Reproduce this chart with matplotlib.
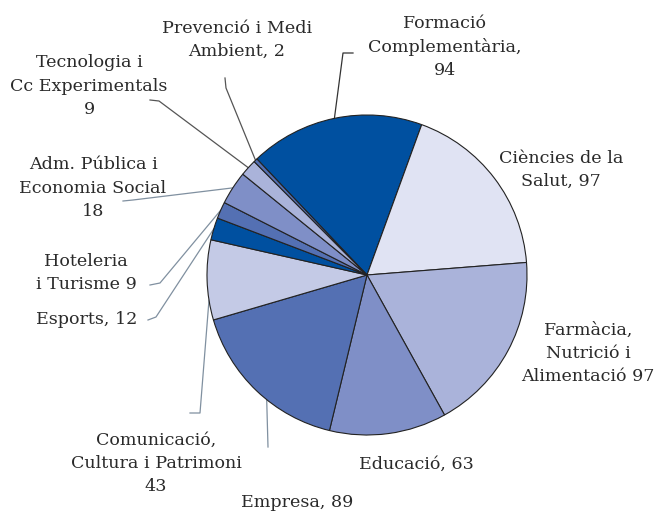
import matplotlib
matplotlib.use("Agg")
import matplotlib.pyplot as plt
import numpy as np

# --- dades ---------------------------------------------------------------
labels = [
    "Formació\nComplementària,\n94",
    "Ciències de la\nSalut, 97",
    "Farmàcia,\nNutrició i\nAlimentació 97",
    "Educació, 63",
    "Empresa, 89",
    "Comunicació,\nCultura i Patrimoni\n43",
    "Esports, 12",
    "Hoteleria\ni Turisme 9",
    "Adm. Pública i\nEconomia Social\n18",
    "Tecnologia i\nCc Experimentals\n9",
    "Prevenció i Medi\nAmbient, 2",
]
values = [94, 97, 97, 63, 89, 43, 12, 9, 18, 9, 2]
colors = ["#0050a0", "#e0e3f3", "#aab3da", "#7f8fc7", "#5470b3", "#c4cae6",
          "#0050a0", "#5470b3", "#7f8fc7", "#aab3da", "#5470b3"]

W, H = 657, 513
CX, CY, R = 367, 275, 160
START = 133.5

# posicio del text (px) i punts de la linia guia (px), None = sense guia
text_pos = [(445, 47), (561, 170), (588, 353), (416, 464), (297, 503),
            (156, 463), (87, 319), (86, 273), (93, 188), (89, 86), (237, 40)]
leaders = [
    [(353, 53), (343, 53)],
    None,
    None,
    None,
    [(268, 447)],
    [(190, 413), (200, 413)],
    [(148, 320), (156, 317)],
    [(150, 285), (160, 283)],
    [(123, 201), (133, 200)],
    [(150, 100), (159, 101)],
    [(225, 78), (226, 88)],
]
anchor_frac = [0.5, 0.5, 0.5, 0.5, 0.42, 0.25, 0.5, 0.5, 0.5, 0.5, 0.5]
leader_col = ["#333333", None, None, None, "#8090a0", "#8090a0", "#8090a0",
              "#8090a0", "#8090a0", "#555555", "#555555"]


def px(x, y):
    return (x - CX) / R, (CY - y) / R


fig = plt.figure(figsize=(W / 100, H / 100), dpi=100)
ax = fig.add_axes([(CX - R) / W, (H - CY - R) / H, 2 * R / W, 2 * R / H])
ax.pie(values, colors=colors, startangle=START, counterclock=False, radius=1,
       wedgeprops={"edgecolor": "#222222", "linewidth": 0.8})
ax.set_xlim(-1, 1)
ax.set_ylim(-1, 1)
ax.axis("off")

total = sum(values)
cum = 0
for i, v in enumerate(values):
    a0 = START - 360 * cum / total
    a1 = a0 - 360 * v / total
    cum += v
    tx, ty = px(*text_pos[i])
    ax.text(tx, ty, labels[i], ha="center", va="center", multialignment="center",
            fontsize=12.6, family="DejaVu Serif", color="#2a2a2a",
            linespacing=1.47, clip_on=False)
    if leaders[i] is None:
        continue
    ang = np.deg2rad(a0 + anchor_frac[i] * (a1 - a0))
    pts = [px(*p) for p in leaders[i]] + [(np.cos(ang), np.sin(ang))]
    xs, ys = zip(*pts)
    ax.plot(xs, ys, color=leader_col[i], lw=0.9, clip_on=False, zorder=0)

fig.savefig("out.png", dpi=100)
